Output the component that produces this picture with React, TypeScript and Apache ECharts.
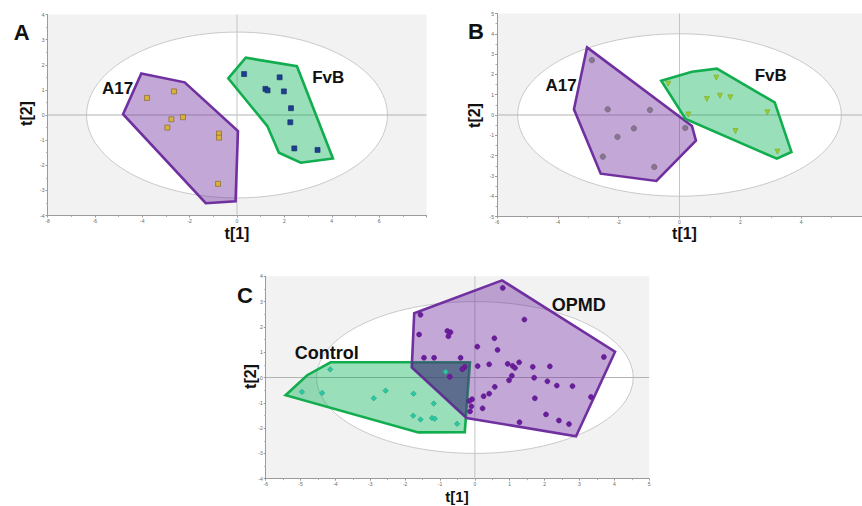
import React, { useEffect, useRef } from "react";
import * as echarts from "echarts";

// ---------- Panel A ----------
const A_X_RANGE = [-8, 8];
const A_Y_RANGE = [-4, 4];
const A_ELLIPSE = [6.35, 3.3];
const A_A17_POINTS = [
  [-3.8, 0.68], [-2.66, 0.94], [-2.77, -0.17], [-2.28, -0.09],
  [-2.94, -0.5], [-0.76, -0.74], [-0.76, -0.9], [-0.8, -2.74],
];
const A_FVB_POINTS = [
  [0.3, 1.63], [1.8, 1.5], [1.2, 1.04], [1.29, 0.98], [1.98, 0.94],
  [2.28, 0.27], [2.25, -0.29], [2.42, -1.33], [3.4, -1.39],
];
const A_A17_HULL = [
  [-4.04, 1.65], [-2.21, 1.3], [0.04, -0.64], [-0.06, -3.43], [-1.32, -3.51], [-4.81, 0.03],
];
const A_FVB_HULL = [
  [-0.37, 1.46], [0.37, 2.28], [2.53, 1.94], [4.05, -1.73], [2.69, -1.9], [1.77, -1.5], [1.28, -0.44],
];

// ---------- Panel B ----------
const B_X_RANGE = [-6, 6];
const B_Y_RANGE = [-5, 5];
const B_ELLIPSE = [5.32, 4.0];
const B_A17_POINTS = [
  [-2.88, 2.7], [-2.36, 0.28], [-0.97, 0.25], [-1.5, -0.66],
  [-2.04, -1.08], [-2.52, -2.05], [-0.83, -2.56], [0.19, -0.64],
];
const B_FVB_POINTS = [
  [-0.37, 1.54], [1.21, 1.84], [0.9, 0.79], [1.33, 0.95], [1.67, 0.87],
  [0.29, 0.03], [2.89, 0.13], [1.84, -0.79], [3.22, -1.8],
];
const B_A17_HULL = [
  [-3.04, 3.33], [0.41, -0.54], [0.54, -1.26], [-0.76, -3.25], [-2.59, -2.89], [-3.47, 0.28],
];
const B_FVB_HULL = [
  [-0.6, 1.69], [0.41, 2.13], [1.23, 2.28], [3.13, 0.62], [3.68, -1.82], [3.2, -2.15], [0.2, -0.2],
];

// ---------- Panel C ----------
const C_X_RANGE = [-6, 5];
const C_Y_RANGE = [-4, 4];
const C_ELLIPSE = [4.54, 3.0];
const C_CONTROL_POINTS = [
  [-4.15, 0.32], [-4.96, -0.57], [-4.38, -0.61], [-2.9, -0.82], [-2.56, -0.52],
  [-1.76, -0.64], [-1.18, -1.03], [-1.77, -1.51], [-1.56, -1.66], [-1.23, -1.6],
  [-1.15, -1.63], [-0.51, -1.83], [-0.84, 0.23],
];
const C_OPMD_POINTS = [
  [0.8, 3.54], [-1.56, 2.48], [1.42, 2.29], [-1.6, 1.7], [-0.79, 1.84], [-0.7, 1.79],
  [-0.76, 1.63], [0.56, 1.55], [0.07, 1.22], [0.65, 1.09], [-1.46, 0.78], [-1.17, 0.78],
  [-0.41, 0.78], [3.7, 0.81], [0.08, 0.45], [0.41, 0.52], [0.94, 0.54], [1.08, 0.46],
  [1.15, 0.38], [1.27, 0.6], [1.66, 0.42], [2.15, 0.44], [-0.29, 0.42], [-0.36, 0.33],
  [-0.72, 0.03], [1.06, 0.07], [0.98, -0.11], [1.7, -0.01], [2.08, -0.15], [2.35, -0.32],
  [2.8, -0.34], [0.57, -0.37], [0.41, -0.64], [0.25, -0.74], [1.72, -0.82], [3.33, -0.77],
  [-0.08, -0.86], [-0.16, -0.93], [-0.1, -1.14], [-0.14, -1.34], [0.22, -1.22],
  [2.04, -1.46], [2.41, -1.7], [2.7, -1.84], [1.28, -1.77],
];
const C_OPMD_HULL = [
  [-1.74, 2.54], [0.78, 3.84], [4.02, 1.02], [2.9, -2.32], [-0.24, -1.6], [-1.81, 0.4],
];
const C_CONTROL_HULL = [
  [-5.43, -0.7], [-4.81, 0.09], [-4.14, 0.6], [-0.14, 0.6], [-0.29, -2.16], [-1.62, -2.17],
];

// ---------- helpers ----------
const PURPLE = "#7030a0";
const PURPLE_FILL = "rgba(112,48,160,0.42)";
const GREEN = "#12ad4f";
const GREEN_FILL = "rgba(0,176,80,0.40)";
const FONT = "'Liberation Sans', Arial, sans-serif";

function signedArea(p: number[][]) {
  let s = 0;
  for (let i = 0; i < p.length; i++) {
    const a = p[i], b = p[(i + 1) % p.length];
    s += a[0] * b[1] - b[0] * a[1];
  }
  return s / 2;
}
function clipPolygon(subject: number[][], clip: number[][]) {
  const sg = signedArea(clip) > 0 ? 1 : -1;
  let out = subject.slice();
  for (let i = 0; i < clip.length; i++) {
    const a = clip[i], b = clip[(i + 1) % clip.length];
    const inside = (p: number[]) =>
      sg * ((b[0] - a[0]) * (p[1] - a[1]) - (b[1] - a[1]) * (p[0] - a[0])) >= 0;
    const inter = (p: number[], q: number[]) => {
      const ex = b[0] - a[0], ey = b[1] - a[1];
      const dx = q[0] - p[0], dy = q[1] - p[1];
      const t = ((a[0] - p[0]) * ey - (a[1] - p[1]) * ex) / (dx * ey - dy * ex);
      return [p[0] + t * dx, p[1] + t * dy];
    };
    const input = out;
    out = [];
    for (let j = 0; j < input.length; j++) {
      const cur = input[j], prev = input[(j + input.length - 1) % input.length];
      if (inside(cur)) {
        if (!inside(prev)) out.push(inter(prev, cur));
        out.push(cur);
      } else if (inside(prev)) {
        out.push(inter(prev, cur));
      }
    }
    if (!out.length) break;
  }
  return out;
}
const C_OVERLAP = clipPolygon(C_CONTROL_HULL, C_OPMD_HULL);

function backgroundSeries(idx: number, ell: number[], xr: number[], yr: number[]) {
  return {
    type: "custom",
    xAxisIndex: idx,
    yAxisIndex: idx,
    data: [[0, 0]],
    z: 1,
    silent: true,
    clip: false,
    renderItem: (params: any, api: any) => {
      const c = api.coord([0, 0]);
      const s = api.size([ell[0], ell[1]]);
      const h1 = api.coord([xr[0], 0]);
      const h2 = api.coord([xr[1], 0]);
      const v1 = api.coord([0, yr[0]]);
      const v2 = api.coord([0, yr[1]]);
      return {
        type: "group",
        children: [
          {
            type: "ellipse",
            shape: { cx: c[0], cy: c[1], rx: s[0], ry: s[1] },
            style: { fill: "#ffffff", stroke: "#c9c9c9", lineWidth: 1 },
          },
          {
            type: "line",
            shape: { x1: h1[0], y1: h1[1], x2: h2[0], y2: h2[1] },
            style: { stroke: "#b3b3b3", lineWidth: 1 },
          },
          {
            type: "line",
            shape: { x1: v1[0], y1: v1[1], x2: v2[0], y2: v2[1] },
            style: { stroke: "#c4c4c4", lineWidth: 1 },
          },
        ],
      };
    },
  };
}

function hullSeries(idx: number, verts: number[][], stroke: string | null, fill: string, z: number, lw = 2.6) {
  return {
    type: "custom",
    xAxisIndex: idx,
    yAxisIndex: idx,
    data: verts,
    z,
    silent: true,
    clip: false,
    renderItem: (params: any, api: any) => {
      if (params.dataIndex !== 0) return null;
      const pts = verts.map((v) => api.coord(v));
      return {
        type: "polygon",
        shape: { points: pts },
        style: {
          fill,
          stroke: stroke || "none",
          lineWidth: stroke ? lw : 0,
          lineJoin: "miter",
        },
      };
    },
  };
}

function scatterSeries(idx: number, data: number[][], symbol: string, size: number, color: string, border: string, rotate = 0) {
  return {
    type: "scatter",
    xAxisIndex: idx,
    yAxisIndex: idx,
    data,
    symbol,
    symbolSize: size,
    symbolRotate: rotate,
    z: 5,
    silent: true,
    itemStyle: { color, borderColor: border, borderWidth: 0.6, opacity: 1 },
  };
}

function xAxis(idx: number, r: number[], interval: number, showMax: boolean) {
  return {
    type: "value",
    gridIndex: idx,
    min: r[0],
    max: r[1],
    interval,
    axisLine: { show: true, onZero: false, lineStyle: { color: "#9a9a9a", width: 1 } },
    axisTick: { show: true, length: 2, lineStyle: { color: "#9a9a9a" } },
    minorTick: { show: true, splitNumber: 2, length: 1.5, lineStyle: { color: "#b0b0b0" } },
    axisLabel: { fontSize: 5, color: "#666", margin: 3, showMaxLabel: showMax, fontFamily: FONT },
    splitLine: { show: false },
    minorSplitLine: { show: false },
  };
}
function yAxis(idx: number, r: number[], interval: number) {
  return {
    type: "value",
    gridIndex: idx,
    min: r[0],
    max: r[1],
    interval,
    axisLine: { show: true, onZero: false, lineStyle: { color: "#9a9a9a", width: 1 } },
    axisTick: { show: true, length: 2, lineStyle: { color: "#9a9a9a" } },
    minorTick: { show: true, splitNumber: 2, length: 1.5, lineStyle: { color: "#b0b0b0" } },
    axisLabel: { fontSize: 5, color: "#666", margin: 3, fontFamily: FONT },
    splitLine: { show: false },
    minorSplitLine: { show: false },
  };
}

function txt(text: string, x: number, y: number, size: number, rotation = 0) {
  return {
    type: "text",
    x,
    y,
    rotation,
    z: 100,
    silent: true,
    style: {
      text,
      fill: "#111",
      font: `bold ${size}px ${FONT}`,
      align: "center",
      verticalAlign: "middle",
    },
  };
}

export default function App() {
  const ref = useRef<HTMLDivElement>(null);
  useEffect(() => {
    if (!ref.current) return;
    const chart = echarts.init(ref.current, null, { renderer: "svg" });
    const gridBase = { show: true, backgroundColor: "#f2f2f2", borderWidth: 0, containLabel: false };
    const option: any = {
      animation: false,
      grid: [
        { ...gridBase, left: 47.5, top: 14.5, width: 379, height: 201 },
        { ...gridBase, left: 497, top: 13.5, width: 375.6, height: 203 },
        { ...gridBase, left: 265.7, top: 276.3, width: 383.5, height: 202.4 },
      ],
      xAxis: [
        xAxis(0, A_X_RANGE, 2, false),
        xAxis(1, B_X_RANGE, 2, false),
        xAxis(2, C_X_RANGE, 1, true),
      ],
      yAxis: [
        yAxis(0, A_Y_RANGE, 1),
        yAxis(1, B_Y_RANGE, 1),
        yAxis(2, C_Y_RANGE, 1),
      ],
      series: [
        backgroundSeries(0, A_ELLIPSE, A_X_RANGE, A_Y_RANGE),
        backgroundSeries(1, B_ELLIPSE, B_X_RANGE, B_Y_RANGE),
        backgroundSeries(2, C_ELLIPSE, C_X_RANGE, C_Y_RANGE),
        hullSeries(0, A_A17_HULL, PURPLE, PURPLE_FILL, 2),
        hullSeries(0, A_FVB_HULL, GREEN, GREEN_FILL, 2),
        hullSeries(1, B_A17_HULL, PURPLE, PURPLE_FILL, 2),
        hullSeries(1, B_FVB_HULL, GREEN, GREEN_FILL, 2),
        hullSeries(2, C_CONTROL_HULL, GREEN, GREEN_FILL, 2),
        hullSeries(2, C_OPMD_HULL, PURPLE, PURPLE_FILL, 3),
        hullSeries(2, C_OVERLAP, null, "rgba(40,60,105,0.45)", 4),
        scatterSeries(0, A_A17_POINTS, "rect", 5, "#d9b13b", "#7a5f1c"),
        scatterSeries(0, A_FVB_POINTS, "rect", 5, "#1d3f8f", "#142c66"),
        scatterSeries(1, B_A17_POINTS, "circle", 5.5, "#86768f", "#6e5e78"),
        scatterSeries(1, B_FVB_POINTS, "triangle", 5, "#9ccc2c", "#7aa820", 180),
        scatterSeries(2, C_CONTROL_POINTS, "diamond", 5.5, "#2cc79f", "#22a585"),
        scatterSeries(2, C_OPMD_POINTS, "circle", 5, "#6a1d9c", "#5a1588"),
      ],
      graphic: [
        txt("A", 21.7, 32.7, 22),
        txt("B", 476, 31.7, 22),
        txt("C", 245, 295.8, 22),
        txt("A17", 117.5, 88.3, 17),
        txt("FvB", 328.3, 77.5, 17),
        txt("A17", 561, 85.8, 17),
        txt("FvB", 770.7, 75, 17),
        txt("OPMD", 578.8, 305, 18),
        txt("Control", 326.7, 352.7, 18),
        txt("t[1]", 237, 233.5, 16),
        txt("t[1]", 684.5, 233.5, 16),
        txt("t[1]", 457, 496.5, 15),
        txt("t[2]", 26.7, 113.5, 16, Math.PI / 2),
        txt("t[2]", 474.3, 115.5, 16, Math.PI / 2),
        txt("t[2]", 250, 376.5, 16, Math.PI / 2),
      ],
    };
    chart.setOption(option);
    return () => chart.dispose();
  }, []);
  return (
    <div
      ref={ref}
      style={{ position: "fixed", left: 0, top: 0, width: 862, height: 506, background: "#fff" }}
    />
  );
}
